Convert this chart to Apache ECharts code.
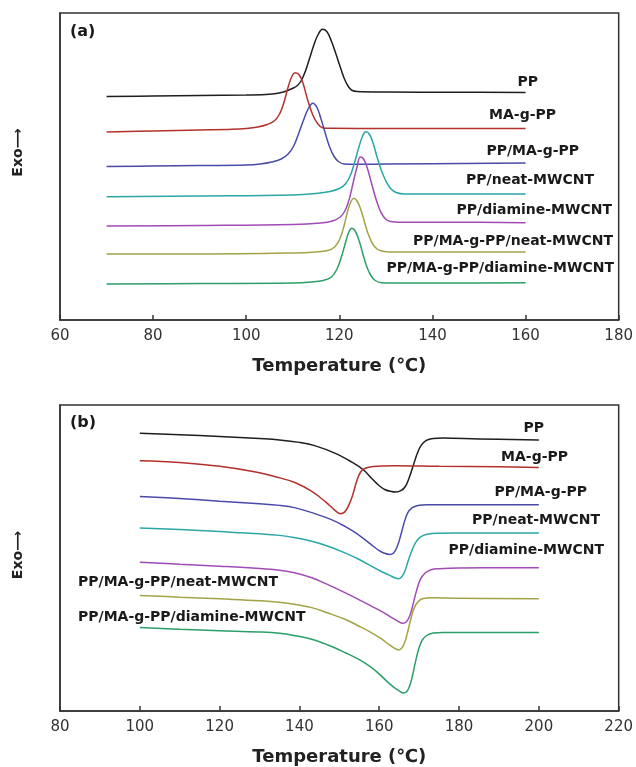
<!DOCTYPE html>
<html>
<head>
<meta charset="utf-8">
<script src="https://cdn.jsdelivr.net/npm/echarts@6/dist/echarts.min.js"></script>
<style>
html,body{margin:0;padding:0;background:#fff;}
#chart{width:636px;height:767px;}
</style>
</head>
<body>
<div id="chart"></div>
<script>
// ---------- names ----------
const seriesNames = ['PP','MA-g-PP','PP/MA-g-PP','PP/neat-MWCNT','PP/diamine-MWCNT','PP/MA-g-PP/neat-MWCNT','PP/MA-g-PP/diamine-MWCNT'];
const colors = ['#1e1e1e','#b3302c','#4a4aa8','#2aa6a6','#a24bb6','#a3a345','#2a9f68'];

// ---------- panel (a): crystallization, [temperature, signal (offset a.u.)] ----------
const a_PP = [[70,223.5],[80,224],[90,224.5],[100,225],[105,225.7],[108,228],[110,231.7],[111,234.5],[111.9,240],[112.8,250],[113.7,263],[114.6,276],[115.5,286],[116.4,290.7],[117.3,288.5],[118.2,280],[119.2,267],[120.2,253],[121.1,241],[122,233],[122.8,229.5],[123.8,228.5],[130,228],[145,227.8],[160,227.5]];
const a_MAgPP = [[70,188],[80,189],[90,190],[97,190.7],[100,191.5],[102.5,193],[104.5,195.5],[106,199],[107.1,205.5],[108,216],[109,233],[109.9,244.5],[110.6,247.3],[111.4,245],[112.2,236.7],[113.2,220],[114.3,205],[115.4,196],[116.4,192.3],[118,191.7],[130,191.5],[145,191.5],[160,191.5]];
const a_PP_MAgPP = [[70,153.5],[80,154],[90,154.5],[100,155],[103,156],[105.5,158],[107.5,161],[109,166],[110.2,174],[111.3,187],[112.4,201],[113.4,212],[114.3,216.7],[115.2,212.5],[116,202],[116.9,188],[117.8,174.5],[118.8,164],[119.8,158.5],[121,156],[123,155.7],[130,156],[160,157]];
const a_PP_neat = [[70,123.3],[90,124],[110,125],[115,126.5],[118,128.5],[120,131.5],[121.3,136],[122.4,145],[123.3,158],[124.2,173],[125,184],[125.7,188.3],[126.5,185.5],[127.3,176],[128.1,163],[129,150],[130,139],[131,131.5],[132.2,127.5],[134,126],[145,126],[160,126]];
const a_PP_diamine = [[70,94],[90,94.5],[110,95.5],[116,97],[118.5,99],[120.2,103],[121.3,110],[122.2,122],[123,138],[123.8,153],[124.5,163],[125.2,161],[126,152],[126.9,137],[127.8,122],[128.8,109],[129.8,101.5],[131,98.5],[133,97.7],[145,97.7],[160,97.3]];
const a_PP_MA_neat = [[70,66],[90,66],[110,67],[115,68],[117.5,69.5],[119,73],[120.1,81],[121,94],[121.8,109],[122.5,118.5],[123.1,121.7],[123.8,119],[124.6,110.5],[125.4,98],[126.2,86],[127.1,76.5],[128.1,71],[129.3,68.7],[131,68],[145,68],[160,68]];
const a_PP_MA_diamine = [[70,36],[90,36.5],[110,37],[114,38],[116.5,39.5],[118.3,43],[119.5,51],[120.5,64],[121.3,77],[122,87.5],[122.7,91.7],[123.4,89],[124.2,80],[125,67],[125.8,54.5],[126.7,45],[127.7,39.5],[129,37.3],[131,37],[145,37],[160,37.3]];

// ---------- panel (b): melting ----------
const b_PP = [[100,278.7],[110,277.2],[120,275.3],[130,273.3],[135,272],[140,269.5],[144,266],[149,258.5],[153,250],[156,242],[158.2,233],[160,226],[161.5,222],[163,220.2],[164.2,219.7],[165.4,221],[166.5,225],[167.5,234],[168.5,246],[169.5,258],[170.5,266.5],[171.8,271.5],[173.5,273.5],[176,274],[185,273],[200,272]];
const b_MAgPP = [[100,251],[110,249.3],[120,245.5],[128,240.5],[134,235],[139,229],[143,220.5],[146.5,210],[149,201],[150.3,198],[151.3,199.5],[152.2,205],[153.3,216],[154.3,230],[155.3,239.5],[156.5,243.5],[158.5,245.3],[163.8,246],[175,245.5],[190,245],[200,244.3]];
const b_PP_MAgPP = [[100,215.3],[110,213.2],[120,210.5],[130,208],[135,206.3],[139,203.8],[143.1,199],[148,192],[151.4,185.3],[154,179],[156.4,172],[158.3,166],[159.8,161.5],[161.3,158.3],[162.6,157],[163.6,158.5],[164.5,165],[165.3,175],[166.1,187],[167.1,198.5],[168.3,204],[170,206.5],[172,207],[180,207],[200,207]];
const b_PP_neat = [[100,183.7],[110,182],[120,180],[130,177.8],[135,176.2],[139,173.8],[143.1,170.3],[147,165.5],[151.4,158.7],[155,152],[158,145.3],[160.5,140],[162.5,136.3],[164,133.5],[164.8,132.7],[165.6,134.5],[166.4,140],[167.2,150],[168.1,160],[169.1,169],[170.3,174.5],[172,177.3],[175,178.3],[180,178.5],[200,178.7]];
const b_PP_diamine = [[100,149.3],[110,147.2],[120,145.3],[130,143],[135,141.2],[139,138.5],[143.1,133.7],[147,127],[151.4,118.7],[155,111.5],[158,105.3],[161,99],[163,94],[164.7,90],[165.9,88],[166.8,89.5],[167.6,95],[168.4,106],[169.3,120],[170.3,132],[171.5,138.5],[173,141.8],[175,142.8],[180,143.5],[200,143.7]];
const b_PP_MA_neat = [[100,116],[110,114.2],[120,112.5],[130,110.7],[135,109.2],[139,106.8],[143.1,103.7],[147,98.5],[151.4,92],[155,85],[158,78.7],[160.5,72.5],[162.5,66.5],[164,62.5],[164.9,61.3],[165.7,63.5],[166.4,69],[167.1,79],[167.9,92],[168.8,103.7],[169.8,110],[171,112.8],[173,113.5],[180,113],[200,112.7]];
const b_PP_MA_diamine = [[100,83.7],[110,82],[120,80.6],[130,79.3],[135,78],[139,75.5],[143.1,72],[147,66.5],[151.4,58.7],[155,51.5],[158,43.7],[160.3,36],[162.2,28.7],[163.6,24],[164.9,20.5],[166.1,18],[166.9,19.5],[167.6,25],[168.3,35],[169,48],[169.8,61],[170.7,70.5],[171.8,75.5],[173.5,78.2],[176,78.8],[180,78.7],[200,78.7]];

// ---------- axes ----------
const xTicksA = {min:60, max:180, interval:20};
const xTicksB = {min:80, max:220, interval:20};
const xTitle = 'Temperature (\u2103)';
const yTitle = 'Exo\u27F6';

const panelA = [a_PP,a_MAgPP,a_PP_MAgPP,a_PP_neat,a_PP_diamine,a_PP_MA_neat,a_PP_MA_diamine];
const panelB = [b_PP,b_MAgPP,b_PP_MAgPP,b_PP_neat,b_PP_diamine,b_PP_MA_neat,b_PP_MA_diamine];

const FONT = 'DejaVu Sans';
const chart = echarts.init(document.getElementById('chart'), null, {renderer:'canvas'});

function xAxisDef(idx, t){
  return {
    type:'value', gridIndex:idx, min:t.min, max:t.max, interval:t.interval,
    name:xTitle, nameLocation:'middle', nameGap:37,
    nameTextStyle:{fontFamily:FONT, fontWeight:'bold', fontSize:18, color:'#222'},
    axisLine:{show:true, lineStyle:{color:'#333', width:1.5}},
    axisTick:{show:true, inside:true, length:5, lineStyle:{color:'#333', width:1.5}},
    axisLabel:{fontFamily:FONT, fontSize:15, color:'#333', margin:9},
    splitLine:{show:false}
  };
}
function yAxisDef(idx, pad){
  return {
    type:'value', gridIndex:idx, min:0, max:307,
    name:yTitle, nameLocation:'middle', nameGap:35,
    nameTextStyle:{fontFamily:FONT, fontWeight:'bold', fontSize:14, color:'#222', padding:pad},
    axisLine:{show:true, lineStyle:{color:'#333', width:1.5}},
    axisTick:{show:false}, axisLabel:{show:false}, splitLine:{show:false}
  };
}

const series = [];
panelA.forEach((d,i)=>series.push({
  name:seriesNames[i], type:'line', xAxisIndex:0, yAxisIndex:0, data:d,
  showSymbol:false, smooth:0.4,
  lineStyle:{color:colors[i], width:1.5}, itemStyle:{color:colors[i]}, silent:true
}));
panelB.forEach((d,i)=>series.push({
  name:seriesNames[i], type:'line', xAxisIndex:1, yAxisIndex:1, data:d,
  showSymbol:false, smooth:0.4,
  lineStyle:{color:colors[i], width:1.5}, itemStyle:{color:colors[i]}, silent:true
}));

// text labels (pixel placement of annotations)
const labA = [[538,82,'right'],[556,115,'right'],[579,151,'right'],[594,180,'right'],[612,210,'right'],[613,241,'right'],[614,268,'right']];
const labB = [[544,428,'right'],[568,457,'right'],[587,492,'right'],[600,520,'right'],[604,550,'right'],[78,582,'left'],[78,617,'left']];
const graphics = [];
function addLab(pos, text){
  graphics.push({type:'text', x:pos[0], y:pos[1], silent:true,
    style:{text:text, fontFamily:FONT, fontWeight:'bold', fontSize:14, fill:'#1a1a1a', align:pos[2], verticalAlign:'middle'}});
}
labA.forEach((p,i)=>addLab(p, seriesNames[i]));
labB.forEach((p,i)=>addLab(p, seriesNames[i]));
addLab([70,32,'left'], '(a)'); graphics[graphics.length-1].style.fontSize = 16;
addLab([70,423,'left'], '(b)'); graphics[graphics.length-1].style.fontSize = 16;

chart.setOption({
  backgroundColor:'#fff',
  animation:false,
  grid:[
    {left:60, right:13, top:13, height:307, show:true, borderColor:'#333', borderWidth:1.5, backgroundColor:'transparent'},
    {left:60, right:13, top:405, height:307, show:true, borderColor:'#333', borderWidth:1.5, backgroundColor:'transparent'}
  ],
  xAxis:[xAxisDef(0,xTicksA), xAxisDef(1,xTicksB)],
  yAxis:[yAxisDef(0,[0,0,0,28]), yAxisDef(1,[0,0,0,6])],
  series:series,
  graphic:graphics
});
</script>
</body>
</html>
